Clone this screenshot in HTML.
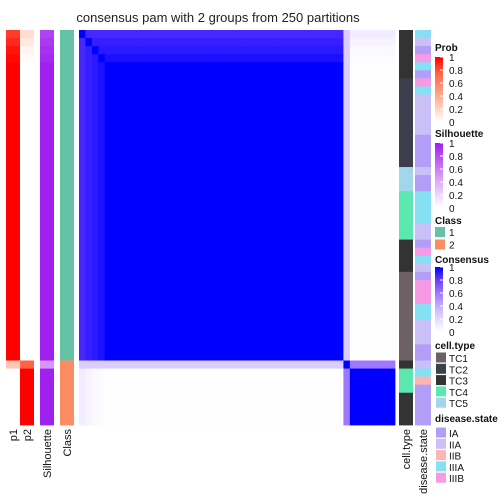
<!DOCTYPE html>
<html><head><meta charset="utf-8"><style>
body{margin:0;background:#fff}
svg{display:block;font-family:"Liberation Sans",sans-serif}
</style></head><body>
<svg id="chart" width="504" height="504" viewBox="0 0 504 504">
<text x="218" y="22" font-size="13" text-anchor="middle" fill="#222">consensus pam with 2 groups from 250 partitions</text>
<g id="cells"></g>
<g id="legend"></g>
</svg>
<script>
// ---- data (49 samples, in display order) ----
const classes = [1,1,1,1,1,1,1,1,1,1,1,1,1,1,1,1,1,1,1,1,1,1,1,1,1,1,1,1,1,1,1,1,1,1,1,1,1,1,1,1,1,2,2,2,2,2,2,2,2];
const p1 = [0.85,0.9,0.95,0.98,1,1,1,1,1,1,1,1,1,1,1,1,1,1,1,1,1,1,1,1,1,1,1,1,1,1,1,1,1,1,1,1,1,1,1,1,1,0.25,0,0,0,0,0,0,0];
const p2 = [0.15,0.1,0.05,0.02,0,0,0,0,0,0,0,0,0,0,0,0,0,0,0,0,0,0,0,0,0,0,0,0,0,0,0,0,0,0,0,0,0,0,0,0,0,0.75,1,1,1,1,1,1,1];
const silhouette = [0.85,0.9,0.93,0.96,1,1,1,1,1,1,1,1,1,1,1,1,1,1,1,1,1,1,1,1,1,1,1,1,1,1,1,1,1,1,1,1,1,1,1,1,1,0.5,1,1,1,1,1,1,1];
const within = [0.87,0.9,0.92,0.95,1,1,1,1,1,1,1,1,1,1,1,1,1,1,1,1,1,1,1,1,1,1,1,1,1,1,1,1,1,1,1,1,1,1,1,1,1,0.6,1,1,1,1,1,1,1];
const cross = [0.1,0.06,0.03,0.02,0.01,0.01,0.01,0.01,0.01,0.01,0.01,0.01,0.01,0.01,0.01,0.01,0.01,0.01,0.01,0.01,0.01,0.01,0.01,0.01,0.01,0.01,0.01,0.01,0.01,0.01,0.01,0.01,0.01,0.01,0.01,0.01,0.01,0.01,0.01,0.01,0.01,0.25,0,0,0,0,0,0,0];
const cellType = ["TC3","TC3","TC3","TC3","TC3","TC3","TC2","TC2","TC2","TC2","TC2","TC2","TC2","TC2","TC2","TC2","TC2","TC5","TC5","TC5","TC4","TC4","TC4","TC4","TC4","TC4","TC3","TC3","TC3","TC3","TC1","TC1","TC1","TC1","TC1","TC1","TC1","TC1","TC1","TC1","TC1","TC3","TC4","TC4","TC4","TC3","TC3","TC3","TC3"];
const disease = ["IIIA","IIA","IA","IIIB","IIIA","IA","IIIB","IIIA","IIA","IIA","IIA","IIA","IIA","IA","IA","IA","IA","IIA","IA","IA","IIIA","IIIA","IIIA","IIIA","IIA","IIA","IA","IIIB","IIIA","IIA","IA","IIIB","IIIB","IIIB","IIIA","IIIA","IIA","IIA","IIA","IA","IA","IIA","IIIA","IIB","IA","IA","IA","IA","IA"];
const cellTypeLevels = ["TC1","TC2","TC3","TC4","TC5"];
const diseaseLevels = ["IA","IIA","IIB","IIIA","IIIB"];
const legendTicks = ["1","0.8","0.6","0.4","0.2","0"];

// ---- styles ----
const cellTypeColors = {TC1:"#6e6166",TC2:"#3d3f4c",TC3:"#333333",TC4:"#5ce6b0",TC5:"#a2d6ec"};
const diseaseColors = {IA:"#b29df7",IIA:"#c9c0f7",IIB:"#ffb4b4",IIIA:"#86e0f4",IIIB:"#f69ae6"};
const classColors = {1:"#66c2a5",2:"#fc8d62"};

function lerp(a,b,t){return a+(b-a)*t;}
function ramp(stops,v){
  v=Math.max(0,Math.min(1,v));
  for(let i=0;i<stops.length-1;i++){
    const [v0,c0]=stops[i],[v1,c1]=stops[i+1];
    if(v<=v1){const t=(v-v0)/(v1-v0);
      return "rgb("+[0,1,2].map(k=>Math.round(lerp(c0[k],c1[k],t))).join(",")+")";}
  }
  return "rgb(0,0,0)";
}
const blueStops=[[0,[255,255,255]],[0.2,[226,216,255]],[0.4,[196,172,255]],[0.6,[158,120,255]],[0.8,[108,62,255]],[1,[0,0,255]]];
const redStops=[[0,[255,255,255]],[0.25,[255,200,180]],[0.5,[255,150,120]],[0.75,[255,100,70]],[1,[255,0,0]]];
const purpleStops=[[0,[255,255,255]],[0.5,[214,150,248]],[1,[160,32,240]]];
const cCol=v=>ramp(blueStops,v), rCol=v=>ramp(redStops,v), pCol=v=>ramp(purpleStops,v);

const n=classes.length;
const topY=30, bottomY=425, hx0=79, hx1=395;
const rowH=(bottomY-topY)/n, colW=(hx1-hx0)/n;
const yOf=i=>topY+i*rowH, xOf=j=>hx0+j*colW;
const NS="http://www.w3.org/2000/svg";
const cells=document.getElementById('cells');
const legend=document.getElementById('legend');
function rect(parent,x,y,w,h,fill,name){
  const r=document.createElementNS(NS,'rect');
  r.setAttribute('x',x);r.setAttribute('y',y);r.setAttribute('width',w);r.setAttribute('height',h);
  r.setAttribute('fill',fill);
  
  
  parent.appendChild(r);return r;
}
function text(parent,x,y,s,size,opts){
  const t=document.createElementNS(NS,'text');
  t.setAttribute('x',x);t.setAttribute('y',y);t.setAttribute('font-size',size);t.setAttribute('fill','#111');
  if(opts.bold)t.setAttribute('font-weight','bold');
  if(opts.rot){t.setAttribute('transform','rotate(-90 '+x+' '+y+')');t.setAttribute('text-anchor','end');}
  t.textContent=s;
  
  
  parent.appendChild(t);return t;
}
function consensus(i,j){
  if(i===j)return 1;
  if(classes[i]===classes[j])return Math.min(within[i],within[j]);
  return Math.max(cross[i],cross[j]);
}
for(let i=0;i<n;i++){
  const y=yOf(i),h=rowH+0.4;
  rect(cells,6,y,14,h,rCol(p1[i]),'p1-cell');
  rect(cells,20,y,14,h,rCol(p2[i]),'p2-cell');
  rect(cells,40,y,14,h,pCol(silhouette[i]),'silhouette-cell');
  rect(cells,60,y,14,h,classColors[classes[i]],'class-cell');
  for(let j=0;j<n;j++) rect(cells,xOf(j),y,colW+0.4,h,cCol(consensus(i,j)),'consensus-cell');
  rect(cells,399,y,14,h,cellTypeColors[cellType[i]],'cell-type-cell');
  rect(cells,415,y,16,h,diseaseColors[disease[i]],'disease-state-cell');
}
const bl=[["p1",17],["p2",31],["Silhouette",51],["Class",71],["cell.type",410],["disease.state",427]];
bl.forEach(([s,x])=>text(cells,x,429,s,11,{rot:true,name:'annotation-label-'+s.replace('.','-').toLowerCase()}));

// legends
function colorbar(title,ty,by,fn,name){
  text(legend,435,ty,title,10,{bold:true,name:name+'-legend-title'});
  const bh=65;
  for(let k=0;k<65;k++) rect(legend,435,by+k,8,1.2,fn(1-k/64),name+'-colorbar-step');
  legendTicks.forEach((lab,k)=>{
    const yy=by+k*bh/(legendTicks.length-1);
    rect(legend,440,yy-0.5,3,1,'#fff',name+'-tick');
    text(legend,449,yy+4,lab,10,{name:name+'-tick-label'});
  });
}
colorbar("Prob",51,57,rCol,'prob');
colorbar("Silhouette",137,143,pCol,'silhouette');
text(legend,435,224,"Class",10,{bold:true,name:'class-legend-title'});
[1,2].forEach((c,k)=>{rect(legend,435,227+k*12.5,10,10,classColors[c],'class-legend-swatch');text(legend,449,236+k*12.5,String(c),10,{name:'class-legend-label'});});
colorbar("Consensus",263,267,cCol,'consensus');
text(legend,435,349,"cell.type",10,{bold:true,name:'cell-type-legend-title'});
cellTypeLevels.forEach((c,k)=>{rect(legend,436,352.5+k*11.3,10,10,cellTypeColors[c],'cell-type-legend-swatch');text(legend,449,362+k*11.3,c,10,{name:'cell-type-legend-label'});});
text(legend,435,422,"disease.state",10,{bold:true,name:'disease-state-legend-title'});
diseaseLevels.forEach((c,k)=>{rect(legend,436,427.5+k*11.3,10,10,diseaseColors[c],'disease-state-legend-swatch');text(legend,449,437+k*11.3,c,10,{name:'disease-state-legend-label'});});
</script>
</body></html>
